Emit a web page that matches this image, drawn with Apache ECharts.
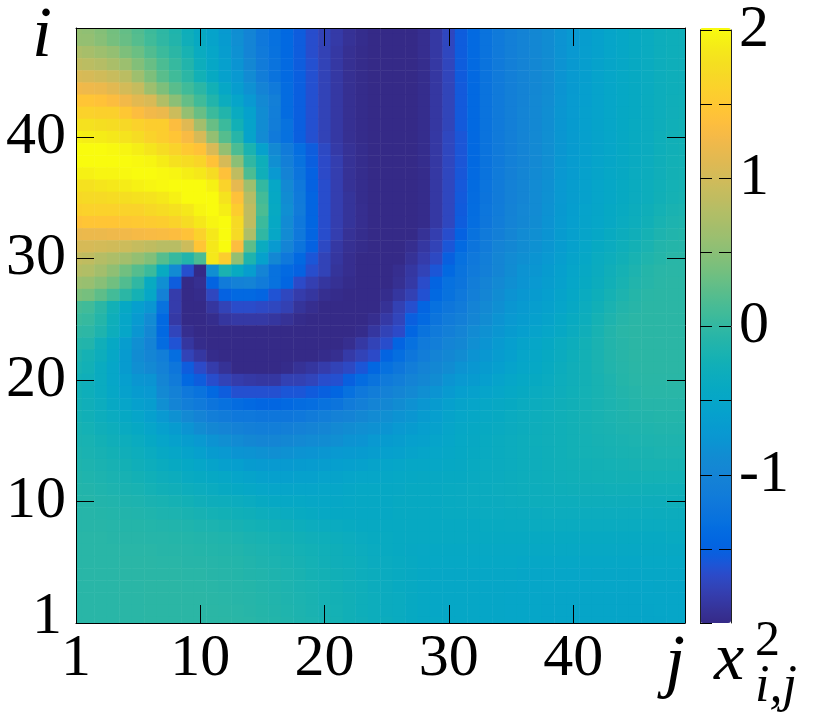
<!DOCTYPE html>
<html>
<head>
<meta charset="utf-8">
<style>
  html, body { margin: 0; padding: 0; background: #fff; }
  #app { width: 832px; height: 713px; }
</style>
<script src="https://cdn.jsdelivr.net/npm/echarts@6/dist/echarts.min.js"></script>
</head>
<body>
<div id="app"></div>
<script>
// tick labels: the axis positions run 0..49, position 0 is labelled 1
const tickLabels = { 0: "1", 10: "10", 20: "20", 30: "30", 40: "40" };
const colorbarLabels = { "2": "2", "1": "1", "0": "0", "-1": "-1" };

// x^2_{i,j}. First line is the top row (i = 49), left to right.
const heatRows = [
[.55,.53,.46,.36,.28,.18,.06,-.03,-.14,-.3,-.44,-.56,-.7,-.86,-1,-1.2,-1.32,-1.42,-1.55,-1.66,-1.76,-1.84,-1.92,-1.97,-2,-2,-2,-2,-1.96,-1.86,-1.72,-1.55,-1.4,-1.28,-1.18,-1.08,-1.02,-.95,-.88,-.8,-.72,-.65,-.58,-.52,-.47,-.42,-.38,-.33,-.3,-.28],
[.56,.55,.48,.38,.3,.2,.08,-.02,-.12,-.28,-.42,-.55,-.68,-.85,-1,-1.2,-1.32,-1.42,-1.55,-1.66,-1.76,-1.84,-1.92,-1.97,-2,-2,-2,-2,-1.96,-1.86,-1.72,-1.55,-1.4,-1.28,-1.18,-1.08,-1.02,-.95,-.88,-.8,-.72,-.65,-.58,-.52,-.47,-.42,-.38,-.33,-.3,-.28],
[.72,.68,.62,.55,.42,.32,.18,.05,-.05,-.2,-.38,-.5,-.65,-.82,-1,-1.18,-1.3,-1.42,-1.55,-1.66,-1.77,-1.86,-1.94,-1.98,-2,-2,-2,-2,-1.96,-1.86,-1.72,-1.55,-1.4,-1.28,-1.18,-1.08,-1.02,-.95,-.88,-.8,-.72,-.64,-.58,-.52,-.47,-.42,-.38,-.33,-.3,-.28],
[.85,.82,.78,.7,.6,.45,.3,.15,.02,-.12,-.32,-.47,-.6,-.78,-.95,-1.15,-1.28,-1.4,-1.55,-1.64,-1.76,-1.86,-1.94,-1.98,-2,-2,-2,-2,-1.97,-1.86,-1.73,-1.55,-1.4,-1.28,-1.18,-1.08,-1.02,-.95,-.88,-.79,-.71,-.63,-.57,-.51,-.47,-.42,-.38,-.33,-.3,-.28],
[1.05,1.02,.98,.92,.82,.62,.42,.22,.08,-.05,-.25,-.42,-.58,-.72,-.9,-1.12,-1.28,-1.4,-1.53,-1.64,-1.76,-1.86,-1.94,-1.98,-2,-2,-2,-2,-1.97,-1.87,-1.74,-1.56,-1.41,-1.28,-1.18,-1.08,-1.02,-.95,-.88,-.78,-.7,-.63,-.56,-.5,-.46,-.42,-.38,-.33,-.3,-.28],
[1.25,1.22,1.2,1.12,1,.9,.62,.42,.22,.08,-.05,-.25,-.48,-.65,-.82,-1.02,-1.18,-1.38,-1.53,-1.64,-1.76,-1.86,-1.94,-1.98,-2,-2,-2,-2,-1.97,-1.87,-1.75,-1.57,-1.42,-1.28,-1.18,-1.08,-1.02,-.95,-.88,-.78,-.7,-.62,-.56,-.5,-.46,-.42,-.38,-.33,-.3,-.28],
[1.45,1.45,1.42,1.35,1.25,1.12,1.05,.75,.5,.28,.08,-.12,-.35,-.52,-.72,-.92,-1.08,-1.38,-1.53,-1.64,-1.76,-1.86,-1.94,-1.98,-2,-2,-2,-2,-1.97,-1.87,-1.75,-1.57,-1.42,-1.28,-1.18,-1.08,-1.01,-.94,-.87,-.77,-.69,-.62,-.56,-.5,-.46,-.41,-.37,-.32,-.29,-.27],
[1.6,1.6,1.58,1.58,1.48,1.35,1.25,1.2,.95,.55,.3,.05,-.12,-.38,-.58,-.88,-1.1,-1.38,-1.53,-1.64,-1.76,-1.86,-1.94,-1.98,-2,-2,-2,-2,-1.97,-1.87,-1.75,-1.57,-1.42,-1.28,-1.18,-1.08,-1,-.93,-.86,-.76,-.69,-.61,-.56,-.5,-.45,-.41,-.37,-.32,-.28,-.26],
[1.78,1.78,1.75,1.72,1.68,1.6,1.55,1.55,1.35,1.1,.65,.3,.05,-.25,-.55,-.88,-1.12,-1.3,-1.53,-1.64,-1.76,-1.86,-1.94,-1.98,-2,-2,-2,-2,-1.97,-1.87,-1.75,-1.57,-1.42,-1.28,-1.18,-1.08,-1,-.93,-.86,-.76,-.68,-.61,-.55,-.5,-.45,-.4,-.36,-.31,-.27,-.25],
[1.92,1.9,1.88,1.85,1.8,1.72,1.62,1.55,1.45,1.3,1.02,.55,.2,-.08,-.55,-.9,-1.18,-1.32,-1.53,-1.64,-1.76,-1.86,-1.94,-1.98,-2,-2,-2,-2,-1.97,-1.86,-1.72,-1.6,-1.42,-1.28,-1.18,-1.08,-1,-.92,-.85,-.75,-.68,-.6,-.55,-.5,-.45,-.4,-.36,-.3,-.26,-.24],
[2,2,2,1.98,1.95,1.9,1.82,1.72,1.62,1.5,1.42,1.05,.55,.15,-.18,-.58,-.92,-1.15,-1.35,-1.55,-1.7,-1.84,-1.92,-1.97,-2,-2,-2,-2,-1.97,-1.86,-1.72,-1.6,-1.42,-1.28,-1.18,-1.08,-1,-.92,-.85,-.75,-.68,-.6,-.55,-.5,-.45,-.4,-.36,-.3,-.26,-.24],
[2,2,2,2,2,1.98,1.95,1.88,1.78,1.72,1.65,1.42,1.02,.5,-.02,-.3,-.85,-1.08,-1.3,-1.53,-1.68,-1.8,-1.92,-1.97,-2,-2,-2,-2,-1.97,-1.86,-1.72,-1.6,-1.42,-1.28,-1.17,-1.07,-1,-.92,-.85,-.74,-.67,-.6,-.54,-.49,-.44,-.39,-.35,-.29,-.25,-.23],
[1.92,1.92,1.95,1.95,1.98,2,2,1.98,1.95,1.9,1.85,1.72,1.4,.85,.15,-.28,-.72,-1.02,-1.25,-1.5,-1.68,-1.8,-1.92,-1.97,-2,-2,-2,-2,-1.98,-1.86,-1.72,-1.59,-1.4,-1.27,-1.16,-1.06,-.99,-.91,-.84,-.73,-.66,-.59,-.53,-.48,-.43,-.38,-.34,-.28,-.24,-.22],
[1.78,1.78,1.82,1.85,1.88,1.92,1.95,1.98,2,2,2,1.92,1.62,1.15,.62,0,-.48,-.92,-1.2,-1.5,-1.66,-1.8,-1.92,-1.97,-2,-2,-2,-2,-1.98,-1.86,-1.72,-1.58,-1.39,-1.26,-1.15,-1.05,-.98,-.9,-.83,-.72,-.65,-.58,-.52,-.47,-.42,-.37,-.33,-.27,-.23,-.21],
[1.68,1.7,1.7,1.72,1.75,1.78,1.8,1.85,1.92,2,2,2,1.8,1.4,.78,.1,-.45,-.88,-1.18,-1.47,-1.66,-1.8,-1.9,-1.97,-2,-2,-2,-2,-1.98,-1.86,-1.72,-1.57,-1.38,-1.25,-1.15,-1.05,-.98,-.9,-.82,-.72,-.65,-.58,-.52,-.47,-.42,-.36,-.32,-.26,-.22,-.2],
[1.58,1.6,1.6,1.6,1.62,1.62,1.68,1.72,1.78,1.85,1.95,2,1.9,1.55,.85,.15,-.42,-.85,-1.15,-1.47,-1.66,-1.8,-1.9,-1.96,-2,-2,-2,-2,-1.98,-1.86,-1.72,-1.56,-1.36,-1.23,-1.13,-1.03,-.96,-.89,-.81,-.71,-.63,-.56,-.51,-.45,-.4,-.34,-.29,-.23,-.19,-.17],
[1.42,1.45,1.45,1.45,1.48,1.5,1.52,1.55,1.62,1.72,1.85,1.95,2,1.7,.85,.05,-.45,-.9,-1.2,-1.45,-1.66,-1.8,-1.9,-1.96,-2,-2,-2,-2,-1.98,-1.86,-1.72,-1.55,-1.35,-1.22,-1.12,-1.02,-.95,-.88,-.8,-.7,-.62,-.55,-.5,-.44,-.38,-.32,-.26,-.2,-.16,-.14],
[1.18,1.2,1.2,1.22,1.25,1.28,1.3,1.32,1.35,1.42,1.6,1.85,2,1.7,.72,-.02,-.48,-.9,-1.2,-1.47,-1.66,-1.8,-1.92,-1.97,-2,-2,-2,-2,-1.92,-1.8,-1.66,-1.5,-1.3,-1.18,-1.08,-.98,-.9,-.85,-.78,-.68,-.6,-.53,-.47,-.4,-.34,-.28,-.22,-.16,-.13,-.11],
[1.02,1.02,1,.98,.95,.9,.85,.8,.8,.95,1.45,1.85,2,1.35,.25,-.38,-.7,-1,-1.25,-1.5,-1.7,-1.86,-1.94,-1.98,-2,-2,-2,-1.96,-1.87,-1.76,-1.6,-1.4,-1.25,-1.15,-1.02,-.95,-.88,-.82,-.75,-.66,-.58,-.5,-.42,-.36,-.3,-.24,-.18,-.12,-.1,-.09],
[.88,.85,.78,.72,.65,.55,.45,.2,.02,-.12,.15,1.85,1.55,.55,-.15,-.58,-.95,-1.2,-1.42,-1.6,-1.76,-1.88,-1.96,-2,-2,-2,-2,-1.92,-1.82,-1.7,-1.52,-1.32,-1.2,-1.1,-.98,-.9,-.84,-.78,-.72,-.64,-.55,-.47,-.38,-.32,-.26,-.2,-.14,-.1,-.07,-.06],
[.78,.75,.65,.52,.35,.2,.05,-.4,-.9,-1.65,-2,-.85,-.18,-.4,-.65,-1,-1.3,-1.4,-1.5,-1.66,-1.76,-1.9,-1.96,-2,-2,-2,-1.96,-1.87,-1.76,-1.6,-1.42,-1.28,-1.18,-1.08,-.98,-.88,-.8,-.75,-.68,-.6,-.52,-.44,-.36,-.28,-.22,-.16,-.1,-.07,-.06,-.06],
[.6,.58,.48,.35,.18,-.02,-.4,-.85,-1.55,-2,-1.95,-1.48,-1.15,-1.05,-1.02,-1.15,-1.3,-1.45,-1.68,-1.79,-1.88,-1.93,-1.98,-2,-2,-2,-1.94,-1.85,-1.67,-1.48,-1.32,-1.25,-1.12,-1.02,-.92,-.84,-.78,-.72,-.65,-.58,-.5,-.42,-.34,-.26,-.2,-.13,-.09,-.06,-.05,-.05],
[.42,.38,.25,.1,-.05,-.22,-.48,-1.05,-1.82,-2,-1.98,-1.72,-1.5,-1.42,-1.42,-1.47,-1.62,-1.72,-1.82,-1.88,-1.95,-1.98,-2,-2,-2,-1.97,-1.88,-1.78,-1.63,-1.42,-1.3,-1.2,-1.08,-.98,-.88,-.8,-.74,-.68,-.62,-.55,-.47,-.38,-.3,-.22,-.16,-.1,-.06,-.05,-.05,-.05],
[.12,.08,-.05,-.25,-.45,-.62,-.75,-1.3,-1.82,-2,-2,-1.88,-1.76,-1.67,-1.67,-1.69,-1.72,-1.78,-1.9,-1.96,-2,-2,-2,-2,-2,-1.92,-1.78,-1.65,-1.47,-1.32,-1.22,-1.15,-1.02,-.92,-.84,-.76,-.7,-.64,-.58,-.52,-.44,-.35,-.26,-.18,-.12,-.08,-.05,-.05,-.05,-.05],
[.05,.02,-.1,-.3,-.5,-.7,-.9,-1.42,-1.85,-2,-2,-1.97,-1.88,-1.85,-1.85,-1.85,-1.88,-1.92,-1.98,-2,-2,-2,-2,-2,-1.96,-1.85,-1.74,-1.53,-1.4,-1.25,-1.15,-1.08,-.98,-.88,-.8,-.72,-.66,-.6,-.55,-.48,-.4,-.32,-.22,-.15,-.09,-.06,-.05,-.05,-.05,-.05],
[-.02,-.04,-.15,-.32,-.5,-.75,-.95,-1.42,-1.74,-1.96,-2,-2,-2,-2,-2,-2,-2,-2,-2,-2,-2,-2,-2,-1.98,-1.88,-1.76,-1.68,-1.45,-1.28,-1.18,-1.08,-1,-.9,-.82,-.75,-.68,-.62,-.56,-.5,-.44,-.36,-.28,-.2,-.12,-.07,-.05,-.05,-.05,-.05,-.05],
[-.1,-.12,-.28,-.45,-.65,-.85,-1.02,-1.38,-1.62,-1.88,-1.98,-2,-2,-2,-2,-2,-2,-2,-2,-2,-2,-2,-1.96,-1.86,-1.76,-1.66,-1.48,-1.32,-1.18,-1.1,-1,-.95,-.85,-.78,-.7,-.62,-.55,-.5,-.45,-.38,-.32,-.25,-.18,-.12,-.08,-.05,-.05,-.05,-.05,-.05],
[-.15,-.22,-.32,-.48,-.68,-.88,-.98,-1.1,-1.35,-1.76,-1.87,-1.98,-2,-2,-2,-2,-2,-2,-2,-2,-1.98,-1.95,-1.84,-1.76,-1.68,-1.48,-1.35,-1.22,-1.12,-1.02,-.95,-.88,-.8,-.74,-.66,-.6,-.52,-.48,-.42,-.36,-.3,-.24,-.18,-.12,-.08,-.05,-.05,-.05,-.05,-.05],
[-.2,-.25,-.38,-.5,-.68,-.85,-.92,-1.05,-1.22,-1.55,-1.68,-1.82,-1.92,-2,-2,-2,-2,-1.98,-1.92,-1.88,-1.82,-1.76,-1.7,-1.6,-1.44,-1.32,-1.22,-1.12,-1.02,-.95,-.88,-.8,-.74,-.68,-.62,-.56,-.5,-.46,-.4,-.34,-.28,-.24,-.18,-.13,-.09,-.06,-.05,-.05,-.05,-.05],
[-.25,-.28,-.38,-.5,-.62,-.75,-.78,-.98,-1.15,-1.42,-1.55,-1.66,-1.76,-1.82,-1.85,-1.87,-1.87,-1.78,-1.78,-1.74,-1.66,-1.64,-1.52,-1.38,-1.28,-1.18,-1.1,-1.02,-.95,-.88,-.78,-.72,-.68,-.62,-.56,-.5,-.46,-.42,-.38,-.33,-.28,-.24,-.2,-.15,-.1,-.07,-.06,-.06,-.06,-.06],
[-.25,-.3,-.38,-.48,-.58,-.68,-.72,-.92,-1.05,-1.2,-1.28,-1.42,-1.55,-1.64,-1.64,-1.64,-1.64,-1.6,-1.6,-1.56,-1.52,-1.45,-1.32,-1.2,-1.12,-1.05,-.98,-.92,-.85,-.78,-.7,-.62,-.58,-.54,-.5,-.46,-.42,-.38,-.35,-.31,-.27,-.23,-.2,-.16,-.12,-.09,-.07,-.07,-.07,-.07],
[-.24,-.28,-.35,-.44,-.52,-.6,-.65,-.85,-1,-1.1,-1.18,-1.25,-1.32,-1.38,-1.42,-1.45,-1.45,-1.42,-1.38,-1.35,-1.3,-1.25,-1.15,-1.08,-1,-.95,-.88,-.82,-.75,-.68,-.6,-.55,-.52,-.48,-.44,-.42,-.38,-.35,-.32,-.29,-.26,-.23,-.2,-.17,-.14,-.11,-.09,-.09,-.09,-.09],
[-.22,-.26,-.32,-.38,-.45,-.52,-.6,-.72,-.82,-.92,-1.02,-1.1,-1.15,-1.2,-1.2,-1.22,-1.22,-1.22,-1.2,-1.15,-1.1,-1.05,-1.02,-.95,-.9,-.85,-.8,-.75,-.68,-.62,-.55,-.5,-.47,-.44,-.41,-.38,-.35,-.32,-.3,-.27,-.25,-.22,-.2,-.17,-.15,-.13,-.12,-.11,-.11,-.11],
[-.2,-.23,-.28,-.33,-.39,-.45,-.52,-.6,-.68,-.78,-.88,-.95,-1,-1.05,-1.08,-1.1,-1.1,-1.08,-1.05,-1.02,-.98,-.92,-.88,-.85,-.82,-.78,-.72,-.68,-.62,-.58,-.52,-.48,-.45,-.42,-.39,-.36,-.34,-.31,-.29,-.27,-.25,-.22,-.2,-.18,-.16,-.15,-.14,-.13,-.13,-.13],
[-.18,-.2,-.24,-.28,-.33,-.38,-.45,-.52,-.58,-.65,-.72,-.8,-.85,-.9,-.95,-.98,-.98,-.95,-.92,-.9,-.88,-.85,-.8,-.78,-.72,-.68,-.65,-.6,-.58,-.54,-.5,-.46,-.43,-.4,-.37,-.35,-.33,-.3,-.28,-.27,-.25,-.23,-.21,-.2,-.18,-.17,-.16,-.15,-.15,-.15],
[-.16,-.18,-.21,-.24,-.28,-.33,-.38,-.44,-.49,-.55,-.6,-.68,-.72,-.78,-.8,-.82,-.85,-.82,-.8,-.78,-.75,-.72,-.7,-.68,-.65,-.6,-.58,-.55,-.52,-.5,-.47,-.45,-.42,-.39,-.37,-.35,-.33,-.31,-.29,-.27,-.25,-.23,-.22,-.21,-.2,-.19,-.18,-.17,-.17,-.17],
[-.14,-.16,-.18,-.21,-.24,-.28,-.33,-.37,-.41,-.46,-.5,-.55,-.6,-.62,-.68,-.7,-.7,-.7,-.68,-.66,-.65,-.62,-.6,-.58,-.55,-.52,-.5,-.48,-.48,-.47,-.45,-.43,-.4,-.38,-.36,-.35,-.33,-.31,-.29,-.27,-.26,-.25,-.24,-.23,-.22,-.21,-.2,-.2,-.2,-.2],
[-.12,-.14,-.16,-.18,-.21,-.24,-.27,-.31,-.34,-.39,-.42,-.45,-.48,-.52,-.55,-.58,-.6,-.6,-.58,-.58,-.56,-.55,-.52,-.5,-.5,-.48,-.46,-.45,-.43,-.43,-.42,-.41,-.39,-.37,-.36,-.34,-.33,-.31,-.3,-.28,-.27,-.26,-.25,-.25,-.24,-.24,-.23,-.23,-.23,-.23],
[-.11,-.12,-.14,-.16,-.18,-.2,-.23,-.26,-.28,-.32,-.35,-.38,-.42,-.45,-.48,-.5,-.52,-.52,-.52,-.52,-.5,-.5,-.48,-.46,-.46,-.45,-.44,-.42,-.42,-.41,-.4,-.39,-.38,-.37,-.35,-.34,-.33,-.32,-.31,-.3,-.29,-.28,-.28,-.27,-.27,-.27,-.27,-.27,-.27,-.27],
[-.1,-.1,-.12,-.13,-.15,-.16,-.18,-.2,-.22,-.25,-.28,-.31,-.33,-.35,-.38,-.42,-.45,-.46,-.46,-.48,-.48,-.48,-.46,-.45,-.45,-.45,-.42,-.42,-.42,-.41,-.4,-.39,-.38,-.37,-.36,-.35,-.34,-.33,-.33,-.32,-.32,-.31,-.31,-.31,-.31,-.31,-.31,-.31,-.3,-.3],
[-.09,-.09,-.1,-.11,-.12,-.13,-.14,-.16,-.17,-.19,-.21,-.23,-.25,-.27,-.29,-.32,-.35,-.38,-.4,-.42,-.44,-.45,-.45,-.45,-.45,-.45,-.42,-.42,-.42,-.41,-.4,-.4,-.39,-.38,-.38,-.37,-.36,-.36,-.35,-.35,-.35,-.35,-.35,-.35,-.35,-.35,-.35,-.34,-.34,-.34],
[-.08,-.08,-.08,-.09,-.1,-.1,-.11,-.12,-.13,-.14,-.16,-.17,-.19,-.21,-.23,-.25,-.27,-.29,-.32,-.35,-.36,-.38,-.4,-.42,-.42,-.42,-.42,-.42,-.42,-.42,-.42,-.41,-.41,-.4,-.4,-.39,-.39,-.38,-.38,-.38,-.38,-.38,-.38,-.38,-.38,-.38,-.38,-.38,-.37,-.37],
[-.07,-.07,-.07,-.08,-.08,-.08,-.09,-.09,-.1,-.11,-.12,-.13,-.14,-.16,-.18,-.2,-.22,-.24,-.26,-.28,-.3,-.32,-.35,-.38,-.4,-.4,-.42,-.42,-.42,-.42,-.42,-.42,-.42,-.42,-.41,-.41,-.41,-.41,-.41,-.41,-.41,-.41,-.41,-.41,-.41,-.42,-.42,-.41,-.4,-.4],
[-.07,-.07,-.07,-.07,-.07,-.07,-.07,-.08,-.08,-.09,-.1,-.11,-.12,-.13,-.15,-.17,-.19,-.21,-.23,-.25,-.27,-.29,-.32,-.35,-.38,-.4,-.42,-.43,-.44,-.45,-.45,-.45,-.44,-.44,-.44,-.44,-.44,-.44,-.44,-.44,-.44,-.44,-.44,-.44,-.44,-.44,-.43,-.43,-.43,-.43],
[-.07,-.07,-.07,-.07,-.06,-.06,-.06,-.07,-.07,-.08,-.08,-.09,-.1,-.11,-.13,-.15,-.17,-.19,-.21,-.23,-.26,-.28,-.3,-.32,-.36,-.38,-.4,-.42,-.45,-.46,-.46,-.46,-.46,-.46,-.46,-.46,-.47,-.47,-.47,-.47,-.47,-.47,-.47,-.47,-.47,-.47,-.46,-.46,-.46,-.46],
[-.07,-.07,-.07,-.07,-.06,-.06,-.06,-.06,-.06,-.07,-.07,-.08,-.09,-.1,-.12,-.13,-.15,-.17,-.19,-.22,-.24,-.26,-.28,-.32,-.34,-.38,-.4,-.42,-.45,-.47,-.47,-.48,-.48,-.48,-.48,-.48,-.49,-.5,-.5,-.5,-.5,-.5,-.49,-.49,-.49,-.49,-.48,-.48,-.48,-.48],
[-.07,-.07,-.07,-.07,-.06,-.06,-.05,-.05,-.05,-.06,-.06,-.07,-.08,-.09,-.1,-.12,-.14,-.16,-.18,-.2,-.22,-.25,-.28,-.3,-.34,-.36,-.4,-.42,-.45,-.47,-.47,-.48,-.48,-.49,-.49,-.49,-.5,-.5,-.5,-.5,-.5,-.5,-.5,-.5,-.5,-.5,-.5,-.49,-.49,-.49],
[-.07,-.07,-.07,-.07,-.06,-.06,-.05,-.05,-.05,-.05,-.05,-.06,-.07,-.08,-.09,-.11,-.13,-.15,-.17,-.19,-.22,-.24,-.26,-.3,-.32,-.36,-.38,-.42,-.45,-.47,-.47,-.48,-.48,-.49,-.49,-.5,-.5,-.5,-.51,-.51,-.51,-.51,-.51,-.51,-.51,-.51,-.5,-.5,-.5,-.5],
[-.07,-.07,-.07,-.07,-.06,-.06,-.05,-.05,-.05,-.05,-.05,-.05,-.06,-.07,-.08,-.1,-.12,-.14,-.16,-.18,-.21,-.23,-.26,-.3,-.32,-.36,-.38,-.42,-.45,-.47,-.47,-.48,-.48,-.49,-.49,-.5,-.5,-.5,-.51,-.51,-.51,-.51,-.51,-.51,-.51,-.51,-.51,-.5,-.5,-.5],
[-.07,-.07,-.07,-.07,-.06,-.06,-.05,-.05,-.05,-.05,-.05,-.05,-.05,-.06,-.07,-.09,-.11,-.13,-.15,-.17,-.2,-.22,-.26,-.28,-.32,-.34,-.38,-.42,-.45,-.46,-.47,-.47,-.48,-.49,-.49,-.5,-.5,-.5,-.51,-.51,-.51,-.51,-.51,-.51,-.51,-.51,-.51,-.51,-.5,-.5]
];

// parula, 64 steps
const parula = ["#352a87","#363093","#3537a0","#353dad","#3145ba","#2c4ac7","#2053d4","#0f5cdd","#0363e1","#0268e1","#046de0","#0872de","#0d75dc","#107ada","#127dd8","#1481d6","#1485d4","#1389d3","#108ed2","#0c93d2","#0998d1","#079ccf","#06a0cd","#06a4ca","#06a7c6","#07a9c2","#0cacbe","#0faeb9","#15b1b4","#1db3af","#25b5a9","#2eb7a4","#38b99e","#42bb98","#4dbc92","#59bd8c","#65be86","#71bf80","#7cbf7b","#87bf77","#92bf73","#9cbf6f","#a5be6b","#aebe67","#b7bd64","#c0bc60","#c8bc5d","#d1bb59","#d9ba56","#e1b952","#e9b94e","#f1b94a","#f8bb44","#fdbe3d","#ffc337","#fec832","#fcce2e","#fad32a","#f7d826","#f5de21","#f5e41d","#f5eb18","#f6f313","#f9fb0e"];

const cellLabels = Array.from({ length: 50 }, (_, k) => tickLabels[k] || String(k));
const isTick = k => k % 10 === 0;

const cells = [];
heatRows.forEach((row, r) => {
  row.forEach((v, c) => {
    cells.push([c, heatRows.length - 1 - r, v]);
  });
});

const mathFont = '"Liberation Serif", serif';
const tickSize = 60;

function cellAxis(position, showLabels, isY) {
  return {
    type: "category",
    gridIndex: 0,
    data: cellLabels,
    position,
    boundaryGap: false,
    axisLine: { show: true, onZero: false, lineStyle: { color: "#000", width: 1 } },
    axisTick: { show: true, inside: true, length: 18, interval: isTick, lineStyle: { color: "#000", width: 1 } },
    axisLabel: {
      show: showLabels,
      interval: isTick,
      hideOverlap: false,
      // the 1 on the i axis is placed by hand, it sits higher than the tick
      formatter: (val, idx) => (isY && idx === 0 ? "" : val),
      fontFamily: mathFont,
      fontSize: tickSize,
      color: "#000",
      margin: isY ? 10 : 6
    },
    splitLine: { show: false },
    z: 5
  };
}

function barAxis(position) {
  return {
    type: "value",
    gridIndex: 1,
    position,
    min: -2,
    max: 2,
    interval: 0.5,
    axisLine: { show: true, lineStyle: { color: "#222", width: 1 } },
    axisTick: { show: true, inside: true, length: 12, lineStyle: { color: "#000", width: 1 } },
    axisLabel: {
      show: position === "right",
      formatter: val => colorbarLabels[String(val)] || "",
      fontFamily: mathFont,
      fontSize: tickSize,
      color: "#000",
      margin: 8,
      showMinLabel: false,
      padding: [0, 0, 13, 0],
      hideOverlap: false
    },
    splitLine: { show: false },
    z: 5
  };
}

function mathText(text, x, y, size, style) {
  return {
    type: "text",
    x,
    y,
    z: 20,
    style: {
      text,
      fontFamily: mathFont,
      fontSize: size,
      fontStyle: style || "italic",
      fill: "#000",
      textVerticalAlign: "top"
    }
  };
}

// the border cells are half cells: the overhang of the heatmap is masked outside the frame
function mask(x, y, width, height) {
  return {
    type: "rect",
    z: 3,
    zlevel: 0,
    shape: { x, y, width, height },
    style: { fill: "#fff" }
  };
}

const myChart = echarts.init(document.getElementById("app"), null, { renderer: "canvas" });
myChart.setOption({
  animation: false,
  backgroundColor: "#fff",
  grid: [
    { left: 76, top: 28, width: 609, height: 595, containLabel: false },
    { left: 700, top: 28, width: 31, height: 595, containLabel: false }
  ],
  xAxis: [
    cellAxis("bottom", true, false),
    cellAxis("top", false, false),
    { type: "value", gridIndex: 1, show: false, min: 0, max: 1 }
  ],
  yAxis: [
    cellAxis("left", true, true),
    cellAxis("right", false, true),
    barAxis("left"),
    barAxis("right")
  ],
  visualMap: {
    type: "continuous",
    seriesIndex: 0,
    min: -2,
    max: 2,
    calculable: false,
    realtime: false,
    left: 700,
    top: 28,
    itemWidth: 31,
    itemHeight: 595,
    padding: 0,
    text: ["", ""],
    showLabel: false,
    inRange: { color: parula }
  },
  series: [
    {
      type: "heatmap",
      xAxisIndex: 0,
      yAxisIndex: 0,
      data: cells,
      progressive: 0,
      z: 1,
      itemStyle: { borderWidth: 0 },
      emphasis: { disabled: true }
    }
  ],
  graphic: [
    mask(66, 18, 10, 615),
    mask(685.5, 18, 10, 615),
    mask(66, 18, 630, 10),
    mask(66, 623.5, 630, 10),
    mathText("i", 32, 1, 72),
    mathText("1", 32, 587, tickSize, "normal"),
    mathText("j", 665, 629, 72),
    mathText("x", 714, 627, 68),
    mathText("2", 755, 617, 50, "normal"),
    mathText("i,j", 755, 661, 52)
  ]
});
</script>
</body>
</html>
